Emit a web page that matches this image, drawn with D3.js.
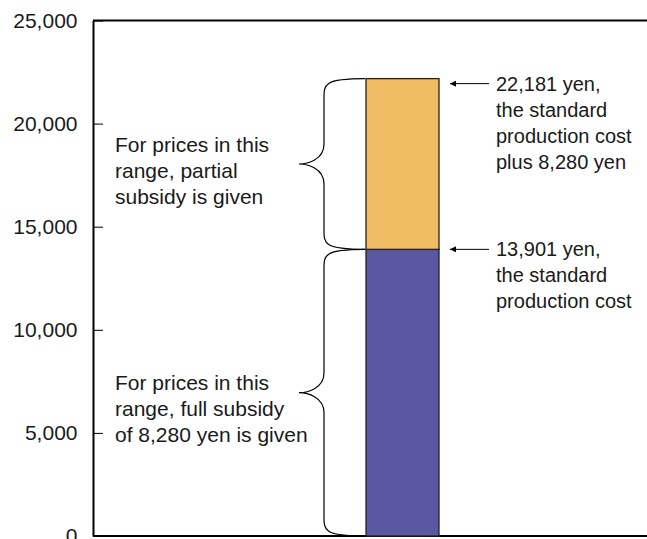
<!DOCTYPE html>
<html><head><meta charset="utf-8">
<script src="https://cdn.jsdelivr.net/npm/d3@7"></script>
<style>
html,body{margin:0;padding:0;background:#fff;overflow:hidden}
text{font-family:"Liberation Sans",Arial,Helvetica,sans-serif;fill:#1a1a1a}
</style></head><body>
<svg id="c" width="647" height="539"></svg>
<script>
// ---- data ----
const categories = ["price"];
const tickValues = [0, 5000, 10000, 15000, 20000, 25000];
const standardCost = [13901];
const costPlusSubsidy = [22181];
const segmentNames = ["full subsidy", "partial subsidy"];
const bracketLabels = [
  ["For prices in this", "range, full subsidy", "of 8,280 yen is given"],
  ["For prices in this", "range, partial", "subsidy is given"]
];
const pointLabels = [
  ["13,901 yen,", "the standard", "production cost"],
  ["22,181 yen,", "the standard", "production cost", "plus 8,280 yen"]
];

// ---- layout ----
const W = 647, H = 539;
const plotLeft = 93, plotTop = 20.5, plotBottom = 536;
const tickFs = 21, leftFs = 21, rightFs = 20, lh = 26;
const bracketShift = [-3, -12];   // first baseline relative to brace point
const arrowShift = [0, 5];        // arrow offset (px) as drawn in reference
const svg = d3.select("#c");

const y = d3.scaleLinear().domain([0, 25000]).range([plotBottom, plotTop]);
const x = d3.scaleBand().domain(categories).range([plotLeft, 712]).paddingInner(0).paddingOuter(3.74).align(0.5);

const stacks = [
  {name: segmentNames[0], y0: 0, y1: standardCost[0], color: "#5b58a3"},
  {name: segmentNames[1], y0: standardCost[0], y1: costPlusSubsidy[0], color: "#f0bc64"}
];

// frame: top line and bottom axis
svg.append("line").attr("x1", plotLeft).attr("x2", W).attr("y1", y(25000)).attr("y2", y(25000))
  .attr("stroke", "#000").attr("stroke-width", 2);
svg.append("line").attr("x1", plotLeft).attr("x2", W).attr("y1", y(0)).attr("y2", y(0))
  .attr("stroke", "#000").attr("stroke-width", 2);

// y axis
const yAxis = d3.axisLeft(y).tickValues(tickValues).tickFormat(d3.format(",")).tickSizeInner(-10).tickSizeOuter(0).tickPadding(15.5);
const ag = svg.append("g").attr("transform", `translate(${plotLeft},0)`).call(yAxis);
ag.select(".domain").attr("stroke", "#000").attr("stroke-width", 2);
ag.selectAll(".tick line").attr("stroke", "#000").attr("stroke-width", 1);
ag.selectAll(".tick text").attr("font-size", tickFs).attr("font-family", "Liberation Sans, Arial, sans-serif").attr("fill", "#1a1a1a");

// bars
const bx = x(categories[0]), bw = x.bandwidth();
svg.selectAll("rect.seg").data(stacks).join("rect").attr("class", "seg")
  .attr("x", bx).attr("width", bw)
  .attr("y", d => y(d.y1)).attr("height", d => y(d.y0) - y(d.y1))
  .attr("fill", d => d.color).attr("stroke", "#222").attr("stroke-width", 1.3);

// braces
function brace(x0, yTop, yBot) {
  const spine = x0 - 41, point = x0 - 66;
  const mid = (yTop + yBot) / 2;
  const p = d3.path();
  p.moveTo(x0, yTop);
  p.bezierCurveTo(spine - 2, yTop, spine, yTop + 6, spine, yTop + 22);
  p.lineTo(spine, mid - 20);
  p.bezierCurveTo(spine, mid - 4, point + 8, mid, point, mid);
  p.bezierCurveTo(point + 8, mid, spine, mid + 4, spine, mid + 20);
  p.lineTo(spine, yBot - 22);
  p.bezierCurveTo(spine, yBot - 6, spine - 2, yBot, x0, yBot);
  return p.toString();
}
svg.selectAll("path.brace").data(stacks).join("path").attr("class", "brace")
  .attr("d", d => brace(bx - 1, y(d.y1), y(d.y0)))
  .attr("fill", "none").attr("stroke", "#000").attr("stroke-width", 1.2);

// bracket labels
stacks.forEach((d, i) => {
  const mid = (y(d.y0) + y(d.y1)) / 2;
  const lines = bracketLabels[i];
  const tx = plotLeft + 22;
  const t = svg.append("text").attr("font-size", leftFs).attr("x", tx)
    .attr("y", mid + bracketShift[i]);
  lines.forEach((l, j) => t.append("tspan").attr("x", tx).attr("dy", j ? lh : 0).text(l));
});

// arrows + point labels
svg.append("defs").append("marker").attr("id", "ah").attr("viewBox", "0 0 10 10")
  .attr("refX", 10).attr("refY", 5).attr("markerWidth", 8).attr("markerHeight", 6)
  .attr("markerUnits", "userSpaceOnUse").attr("orient", "auto")
  .append("path").attr("d", "M0,0L10,5L0,10Z").attr("fill", "#000");

const pts = [standardCost[0], costPlusSubsidy[0]];
pts.forEach((v, i) => {
  const yy = y(v) + arrowShift[i];
  svg.append("line").attr("x1", bx + bw + 50).attr("x2", bx + bw + 11).attr("y1", yy).attr("y2", yy)
    .attr("stroke", "#000").attr("stroke-width", 1).attr("marker-end", "url(#ah)");
  const lines = pointLabels[i];
  const tx = bx + bw + 57;
  const t = svg.append("text").attr("font-size", rightFs).attr("x", tx).attr("y", yy + 7);
  lines.forEach((l, j) => t.append("tspan").attr("x", tx).attr("dy", j ? lh : 0).text(l));
});
</script></body></html>
